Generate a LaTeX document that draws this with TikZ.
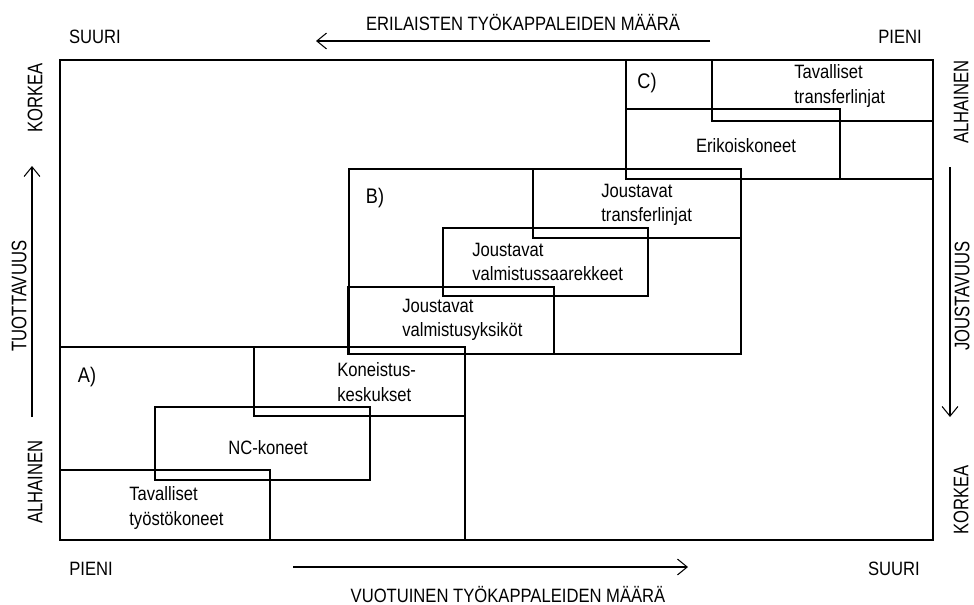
\documentclass[tikz,border=0pt]{standalone}
\usepackage{fontspec}
\setmainfont{Liberation Sans}[FakeStretch=0.86]
\newfontfamily\sidefont{Liberation Sans}[FakeStretch=0.79]
\usepackage{tikz}
\usetikzlibrary{arrows.meta, positioning}
\tikzset{
    area/.style={draw, line width=0.6pt},
    boxText/.style={align=left, inner sep=0pt, font=\fontsize{11}{14}\selectfont},
    areaLabel/.style={inner sep=0pt, font=\fontsize{12}{14}\selectfont},
    axisLabel/.style={inner sep=0pt, font=\fontsize{11}{13}\selectfont},
    sideLabel/.style={inner sep=0pt, rotate=90, font=\sidefont\fontsize{12}{14}\selectfont},
    axisArrow/.style={draw, -{Straight Barb[length=5.5pt, width=9pt]}, line width=0.6pt}
}

\begin{document}
\begin{tikzpicture}[x=0.02cm, y=-0.02cm]
    \useasboundingbox (0,0) rectangle (974,605);

    % Frame
    \draw [area] (60,60) rectangle (933,540);

    % A) area
    \draw [area] (60,347) rectangle (465,540);
    \draw [area] (254,347) rectangle (465,416);
    \draw [area] (155,407) rectangle (370,480);
    \draw [area] (60,470) rectangle (270,540);
    \node [areaLabel] (labelA) at (87,377) {A)};
    \node [boxText, anchor=west] (koneistus) at (337,382) {Koneistus-\\keskukset};
    \node [boxText] (nc) at (268,448) {NC-koneet};
    \node [boxText, anchor=west] (tyosto) at (129,508) {Tavalliset\\työstökoneet};

    % B) area
    \draw [area] (349,169) rectangle (741,354);
    \draw [area] (533,169) rectangle (741,238);
    \draw [area] (443,228) rectangle (648,296);
    \draw [area] (348,287) rectangle (554,354);
    \node [areaLabel] (labelB) at (375,198) {B)};
    \node [boxText, anchor=west] (jtransfer) at (601,205) {Joustavat\\transferlinjat};
    \node [boxText, anchor=west] (saarekkeet) at (472,262) {Joustavat\\valmistussaarekkeet};
    \node [boxText, anchor=west] (yksikot) at (402,320) {Joustavat\\valmistusyksiköt};

    % C) area
    \draw [area] (626,60) rectangle (933,179);
    \draw [area] (712,60) rectangle (933,121);
    \draw [area] (626,109) rectangle (840,179);
    \node [areaLabel] (labelC) at (647,83) {C)};
    \node [boxText, anchor=west] (ttransfer) at (794,86) {Tavalliset\\transferlinjat};
    \node [boxText] (erikois) at (746,146) {Erikoiskoneet};

    % Top axis
    \node [axisLabel] (erilaiset) at (523,23) {ERILAISTEN TYÖKAPPALEIDEN MÄÄRÄ};
    \node [axisLabel] (topSuuri) at (95,37) {SUURI};
    \node [axisLabel] (topPieni) at (900,37) {PIENI};
    \coordinate (topStart) at (710,41);
    \coordinate (topEnd) at (316,41);
    \path [axisArrow] (topStart) -- (topEnd);

    % Bottom axis
    \node [axisLabel] (vuotuinen) at (508,595) {VUOTUINEN TYÖKAPPALEIDEN MÄÄRÄ};
    \node [axisLabel] (botPieni) at (91,569) {PIENI};
    \node [axisLabel] (botSuuri) at (894,569) {SUURI};
    \coordinate (botStart) at (293,567);
    \coordinate (botEnd) at (688,567);
    \path [axisArrow] (botStart) -- (botEnd);

    % Left axis
    \node [sideLabel] (leftKorkea) at (35,98) {KORKEA};
    \node [sideLabel] (tuottavuus) at (19,296) {TUOTTAVUUS};
    \node [sideLabel] (leftAlhainen) at (35,482) {ALHAINEN};
    \coordinate (leftStart) at (32,417);
    \coordinate (leftEnd) at (32,166);
    \path [axisArrow] (leftStart) -- (leftEnd);

    % Right axis
    \node [sideLabel] (rightAlhainen) at (961,102) {ALHAINEN};
    \node [sideLabel] (joustavuus) at (962,296) {JOUSTAVUUS};
    \node [sideLabel] (rightKorkea) at (961,500) {KORKEA};
    \coordinate (rightStart) at (950,167);
    \coordinate (rightEnd) at (950,417);
    \path [axisArrow] (rightStart) -- (rightEnd);
\end{tikzpicture}
\end{document}
